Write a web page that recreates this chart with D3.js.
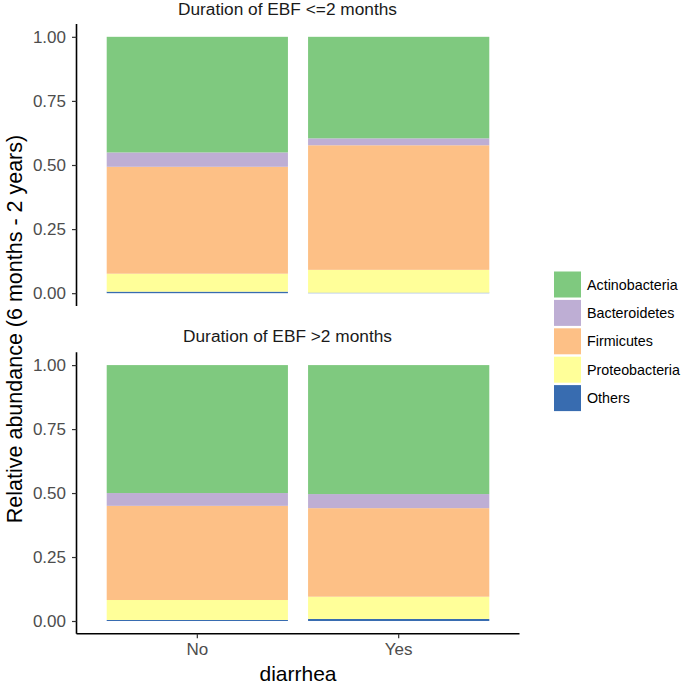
<!DOCTYPE html>
<html>
<head>
<meta charset="utf-8">
<script src="https://cdn.jsdelivr.net/npm/d3@7"></script>
<style>
  html, body { margin: 0; padding: 0; background: #fff; }
  svg { display: block; font-family: "Liberation Sans", Arial, sans-serif; }
</style>
</head>
<body>
<svg id="chart" width="685" height="686"></svg>
<script>
// ---- data ----
const categories = ["No", "Yes"];
const panels = ["Duration of EBF <=2 months", "Duration of EBF >2 months"];
const phyla = ["Actinobacteria", "Bacteroidetes", "Firmicutes", "Proteobacteria", "Others"];
const colors = ["#7FC97F", "#BEAED4", "#FDC086", "#FFFF99", "#386CB0"];
// relative abundance per phylum, [No, Yes]
const panel1_Actinobacteria = [0.451, 0.396];
const panel1_Bacteroidetes  = [0.056, 0.027];
const panel1_Firmicutes     = [0.417, 0.486];
const panel1_Proteobacteria = [0.070, 0.089];
const panel1_Others         = [0.006, 0.002];
const panel2_Actinobacteria = [0.500, 0.504];
const panel2_Bacteroidetes  = [0.050, 0.055];
const panel2_Firmicutes     = [0.368, 0.346];
const panel2_Proteobacteria = [0.078, 0.087];
const panel2_Others         = [0.004, 0.008];
const yTicks = [0, 0.25, 0.5, 0.75, 1];
const xTitle = "diarrhea";
const yTitle = "Relative abundance (6 months - 2 years)";

const panelData = [
  { Actinobacteria: panel1_Actinobacteria, Bacteroidetes: panel1_Bacteroidetes, Firmicutes: panel1_Firmicutes, Proteobacteria: panel1_Proteobacteria, Others: panel1_Others },
  { Actinobacteria: panel2_Actinobacteria, Bacteroidetes: panel2_Bacteroidetes, Firmicutes: panel2_Firmicutes, Proteobacteria: panel2_Proteobacteria, Others: panel2_Others }
];

// ---- layout ----
const svg = d3.select("#chart");
const left = 76.5, right = 519.5;
const panelBoxes = [ { top: 24, bottom: 306 }, { top: 352.3, bottom: 633.8 } ];
const stripY = [14.5, 341.5];
const titleX = 287.5;

const x = d3.scaleBand().domain(categories).range([left, right]).paddingInner(0.1).paddingOuter(0.15);
const color = d3.scaleOrdinal().domain(phyla).range(colors);
const stackOrder = phyla.slice().reverse(); // bottom to top: Others ... Actinobacteria

panelData.forEach((pd, pi) => {
  const box = panelBoxes[pi];
  const y = d3.scaleLinear().domain([-0.05, 1.05]).range([box.bottom, box.top]);
  const rows = categories.map((c, i) => {
    const r = { cat: c };
    phyla.forEach(p => r[p] = pd[p][i]);
    return r;
  });
  const series = d3.stack().keys(stackOrder)(rows);
  const g = svg.append("g");
  g.selectAll("g.s").data(series).join("g")
    .attr("fill", d => color(d.key))
    .selectAll("rect").data(d => d).join("rect")
      .attr("x", d => x(d.data.cat))
      .attr("width", x.bandwidth())
      .attr("y", d => y(d[1]))
      .attr("height", d => y(d[0]) - y(d[1]));

  // y axis
  const ya = g.append("g").attr("transform", `translate(${left},0)`)
    .call(d3.axisLeft(y).tickValues(yTicks).tickFormat(d3.format(".2f")).tickSize(4.5).tickPadding(6));
  ya.select(".domain").attr("d", `M0,${box.top}V${box.bottom}`).attr("stroke", "#000").attr("stroke-width", 1.6);
  ya.selectAll(".tick line").attr("stroke", "#333").attr("stroke-width", 1.2);
  ya.selectAll(".tick text").attr("fill", "#4D4D4D").attr("font-size", 17).attr("font-family", "Liberation Sans, Arial, sans-serif");

  // strip title
  svg.append("text").attr("x", titleX).attr("y", stripY[pi]).attr("text-anchor", "middle")
    .attr("font-size", 17.3).attr("fill", "#1A1A1A").text(panels[pi]);

  if (pi === panelData.length - 1) {
    const xa = svg.append("g").attr("transform", `translate(0,${box.bottom})`)
      .call(d3.axisBottom(x).tickSize(4.5).tickPadding(5));
    xa.select(".domain").attr("d", `M${left},0H${right}`).attr("stroke", "#000").attr("stroke-width", 1.6);
    xa.selectAll(".tick line").attr("stroke", "#333").attr("stroke-width", 1.2);
    xa.selectAll(".tick text").attr("fill", "#4D4D4D").attr("font-size", 17).attr("font-family", "Liberation Sans, Arial, sans-serif");
  }
});

// axis titles
svg.append("text").attr("x", 298).attr("y", 681).attr("text-anchor", "middle")
  .attr("font-size", 21).attr("fill", "#000").text(xTitle);
svg.append("text").attr("transform", "translate(22,329) rotate(-90)").attr("text-anchor", "middle")
  .attr("font-size", 21.5).attr("fill", "#000").text(yTitle);

// legend
const lg = svg.append("g").attr("transform", "translate(554,271.5)");
const step = 28.4;
const items = lg.selectAll("g").data(phyla).join("g").attr("transform", (d, i) => `translate(0,${i * step})`);
items.append("rect").attr("width", 27).attr("height", 26).attr("fill", d => color(d));
items.append("text").attr("x", 33).attr("y", 13).attr("dy", "0.35em")
  .attr("font-size", 14.3).attr("fill", "#000").text(d => d);
</script>
</body>
</html>
